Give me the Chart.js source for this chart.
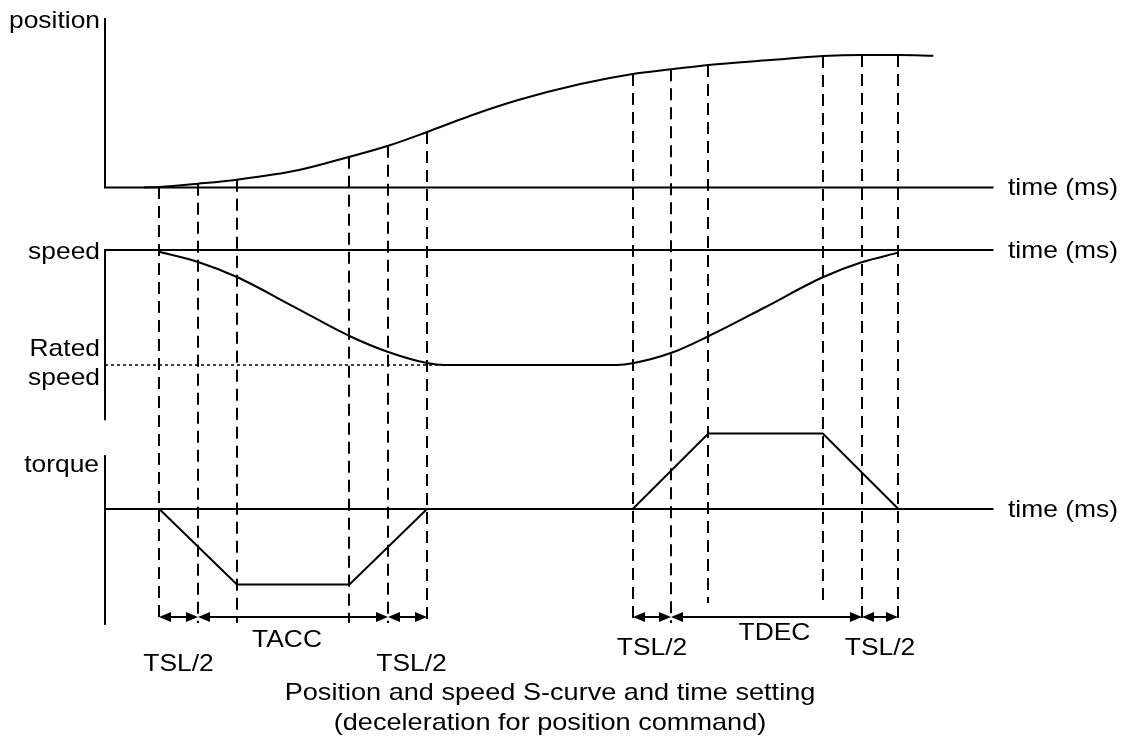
<!DOCTYPE html>
<html>
<head>
<meta charset="utf-8">
<script src="https://cdn.jsdelivr.net/npm/chart.js@4/dist/chart.umd.min.js"></script>
<style>
html, body { margin: 0; padding: 0; background: #fff; }
#wrap { position: relative; width: 1135px; height: 747px; }
</style>
</head>
<body>
<div id="wrap"><canvas id="c"></canvas></div>
<script>
// ---------------- data (time in ms, values in % of final / rated) ----------------
const accelTimes = [28, 48, 68, 126, 146, 166];
const decelTimes = [272, 292, 311, 370, 390, 409];
const positionTimes  = [20, 28, 48, 68, 100, 126, 146, 166, 188, 213, 245, 272, 292, 311, 343, 370, 390, 409, 427];
const positionValues = [0, 0.4, 2.9, 5.9, 13.2, 23.2, 31.5, 41.9, 54, 66, 78.1, 85.7, 89.2, 92.5, 96.2, 99.2, 100, 100, 99.5];
const speedTimes  = [28, 48, 68, 97, 126, 146, 166, 175, 264, 272, 292, 311, 340, 370, 390, 409];
const speedValues = [-1.5, -10.4, -23.5, -49, -74.8, -88.7, -98.3, -100, -100, -98.5, -89.4, -75, -50, -23.7, -10.7, -2.3];
const torqueTimes  = [28, 68, 126, 166, 272, 311, 370, 409];
const torqueValues = [0, -100, -100, 0, 0, 100, 100, 0];
const ratedSpeed = -100;
const ratedSpeedEnd = 175;
const timeAxisEnd = 458;
const panelNames = ['position', 'speed', 'torque'];
const ratedLabel = ['Rated', 'speed'];
const axisName = 'time (ms)';
const intervalLabels = ['TSL/2', 'TACC', 'TSL/2', 'TSL/2', 'TDEC', 'TSL/2'];
const caption = ['Position and speed S-curve and time setting', '(deceleration for position command)'];

// ---------------- layout ----------------
const W = 1135, H = 747;
const X0 = 105, PX_PER_MS = 1.94;
function band(zeroPx, pxPerUnit) {
  return { min: -(H - zeroPx) / pxPerUnit, max: zeroPx / pxPerUnit };
}
const posBand = band(187.5, 1.325);
const speedBand = band(250, 1.15);
const torqueBand = band(509, 0.755);
const posAxisTop = 128, speedAxisBottom = -148, torqueAxisTop = 71.5, torqueAxisBottom = -153.6;
const FONT = '24px "Liberation Sans", Arial, sans-serif';
const SX = 1.1;

const pts = (ts, vs) => ts.map((t, i) => ({ x: t, y: vs[i] }));
const base = { borderColor: '#000', borderWidth: 2, pointRadius: 0, fill: false, tension: 0 };

function posAt(t) {
  for (let i = 0; i < positionTimes.length - 1; i++) {
    const a = positionTimes[i], b = positionTimes[i + 1];
    if (t >= a && t <= b) return positionValues[i] + (positionValues[i + 1] - positionValues[i]) * (t - a) / (b - a);
  }
  return 0;
}

function text(ctx, s, x, y, align, sx) {
  ctx.save();
  ctx.translate(x, y);
  ctx.scale(sx || SX, 1);
  ctx.textAlign = align;
  ctx.textBaseline = 'alphabetic';
  ctx.fillText(s, 0, 0);
  ctx.restore();
}

const overlay = {
  id: 'overlay',
  afterDatasetsDraw(chart) {
    const ctx = chart.ctx;
    const xs = chart.scales.x, yp = chart.scales.yPos;
    ctx.save();
    ctx.strokeStyle = '#000';
    ctx.fillStyle = '#000';
    ctx.lineWidth = 2;
    // dashed guide lines
    const accelEnd = [623, 623, 623, 623, 623, 623];
    const decelEnd = [620, 623, 603, 600, 622, 622];
    ctx.setLineDash([12, 7]);
    const drawGuide = (t, endPx) => {
      const x = Math.round(xs.getPixelForValue(t));
      ctx.beginPath();
      ctx.moveTo(x, yp.getPixelForValue(posAt(t)));
      ctx.lineTo(x, endPx);
      ctx.stroke();
    };
    accelTimes.forEach((t, i) => drawGuide(t, accelEnd[i]));
    decelTimes.forEach((t, i) => drawGuide(t, decelEnd[i]));
    ctx.setLineDash([]);
    // dimension arrows
    const rowY = 617;
    const head = (xTip, dir) => {
      ctx.beginPath();
      ctx.moveTo(xTip, rowY);
      ctx.lineTo(xTip + dir * 12, rowY - 5);
      ctx.lineTo(xTip + dir * 12, rowY + 5);
      ctx.closePath();
      ctx.fill();
    };
    const segs = [
      [accelTimes[0], accelTimes[1]], [accelTimes[1], accelTimes[4]], [accelTimes[4], accelTimes[5]],
      [decelTimes[0], decelTimes[1]], [decelTimes[1], decelTimes[4]], [decelTimes[4], decelTimes[5]]
    ];
    const labelDx = [0, -6, 4, 0, 8, 0];
    const labelY = [671, 647, 671, 655, 640, 655];
    ctx.font = FONT;
    segs.forEach(([a, b], i) => {
      const xa = Math.round(xs.getPixelForValue(a)), xb = Math.round(xs.getPixelForValue(b));
      ctx.lineWidth = 2;
      ctx.beginPath();
      ctx.moveTo(xa + 4, rowY);
      ctx.lineTo(xb - 4, rowY);
      ctx.stroke();
      head(xa, 1);
      head(xb, -1);
      text(ctx, intervalLabels[i], (xa + xb) / 2 + labelDx[i], labelY[i], 'center');
    });
    // panel names
    text(ctx, panelNames[0], 100, 28, 'right');
    text(ctx, panelNames[1], 100, 259, 'right');
    text(ctx, ratedLabel[0], 100, 356, 'right');
    text(ctx, ratedLabel[1], 100, 385, 'right');
    text(ctx, panelNames[2], 99, 472, 'right');
    // time axis names
    const tx = 1008;
    text(ctx, axisName, tx, yp.getPixelForValue(0) + 7.5, 'left');
    text(ctx, axisName, tx, chart.scales.ySpeed.getPixelForValue(0) + 7.5, 'left');
    text(ctx, axisName, tx, chart.scales.yTorque.getPixelForValue(0) + 7.5, 'left');
    // caption
    text(ctx, caption[0], 550, 700, 'center', 1.13);
    text(ctx, caption[1], 550, 730, 'center', 1.13);
    ctx.restore();
  }
};

new Chart(document.getElementById('c'), {
  type: 'line',
  data: {
    datasets: [
      Object.assign({}, base, { label: 'position', yAxisID: 'yPos', data: pts(positionTimes, positionValues), cubicInterpolationMode: 'monotone' }),
      Object.assign({}, base, { label: 'speed', yAxisID: 'ySpeed', data: pts(speedTimes, speedValues), cubicInterpolationMode: 'monotone' }),
      Object.assign({}, base, { label: 'torque', yAxisID: 'yTorque', data: pts(torqueTimes, torqueValues) }),
      Object.assign({}, base, { label: 'position axes', yAxisID: 'yPos', data: [{ x: 0, y: posAxisTop }, { x: 0, y: 0 }, { x: timeAxisEnd, y: 0 }] }),
      Object.assign({}, base, { label: 'speed axes', yAxisID: 'ySpeed', data: [{ x: 0, y: speedAxisBottom }, { x: 0, y: 0 }, { x: timeAxisEnd, y: 0 }] }),
      Object.assign({}, base, { label: 'torque axis', yAxisID: 'yTorque', data: [{ x: 0, y: torqueAxisTop }, { x: 0, y: torqueAxisBottom }] }),
      Object.assign({}, base, { label: 'torque time axis', yAxisID: 'yTorque', data: [{ x: 0, y: 0 }, { x: timeAxisEnd, y: 0 }] }),
      Object.assign({}, base, { label: 'rated speed', yAxisID: 'ySpeed', borderWidth: 1.5, borderDash: [3, 3], data: [{ x: 0, y: ratedSpeed }, { x: ratedSpeedEnd, y: ratedSpeed }] })
    ]
  },
  options: {
    responsive: true,
    maintainAspectRatio: false,
    animation: false,
    layout: { padding: 0 },
    plugins: { legend: { display: false }, tooltip: { enabled: false }, title: { display: false } },
    scales: {
      x: { type: 'linear', display: false, min: -X0 / PX_PER_MS, max: (W - X0) / PX_PER_MS },
      yPos: { type: 'linear', display: false, min: posBand.min, max: posBand.max },
      ySpeed: { type: 'linear', display: false, min: speedBand.min, max: speedBand.max },
      yTorque: { type: 'linear', display: false, min: torqueBand.min, max: torqueBand.max }
    }
  },
  plugins: [overlay]
});
</script>
</body>
</html>
